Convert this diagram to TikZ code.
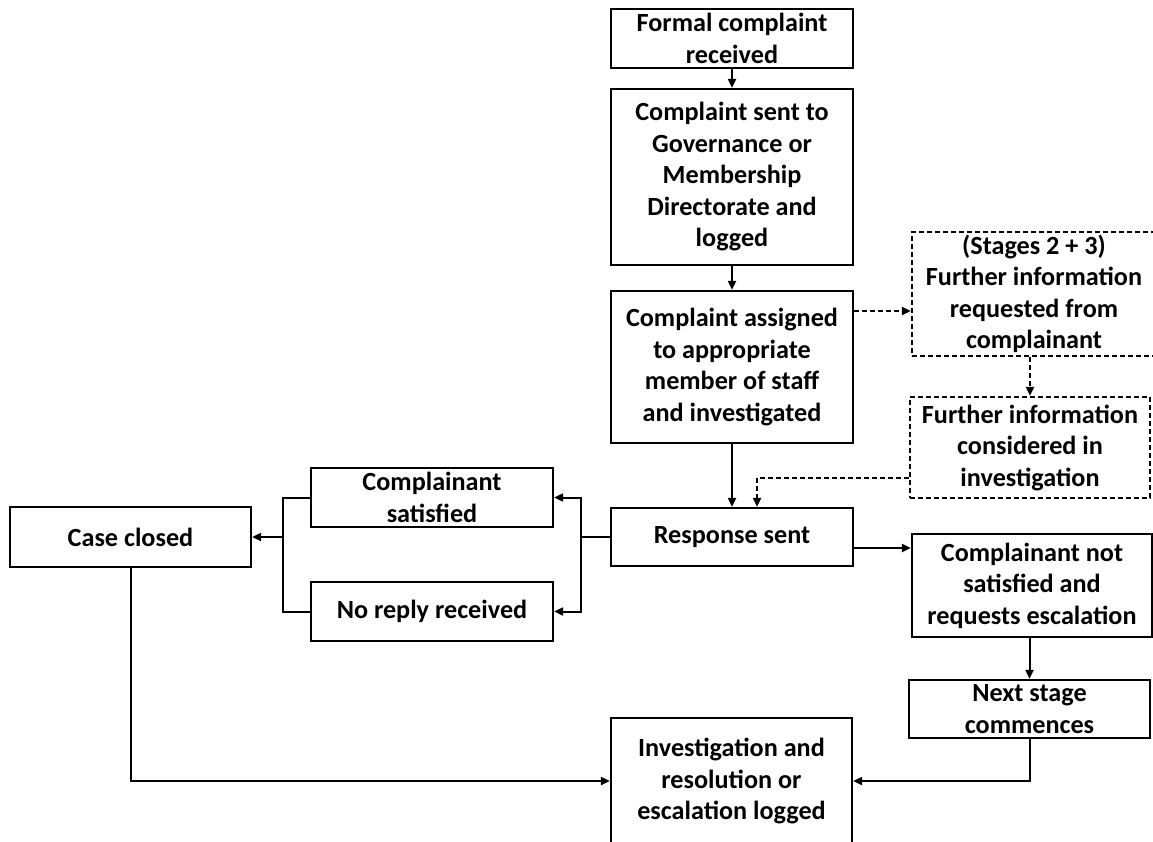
\documentclass[tikz,border=0pt]{standalone}
\usepackage{fontspec}
\setmainfont{Carlito}
\usetikzlibrary{arrows.meta}

\begin{document}
\begin{tikzpicture}[x=1pt,y=-1pt,
    arr/.style={line width=2pt,-{Triangle[length=9pt,width=8pt]}},
    dashline/.style={dash pattern=on 5pt off 3pt}]
      \useasboundingbox (0,0) rectangle (1153,841);
      \begin{scope}[every node/.style={rectangle,draw,line width=2.3pt,inner sep=0pt,
          align=center,minimum width=242pt,font=\bfseries\fontsize{26.2}{31.5}\selectfont}]
        \node[minimum height=59pt] (A) at (732,38.5) {Formal complaint\\received};
        \node[minimum height=176pt] (B) at (732,177) {Complaint sent to\\Governance or\\Membership\\Directorate and\\logged};
        \node[minimum height=152pt] (C) at (732,367) {Complaint assigned\\to appropriate\\member of staff\\and investigated};
        \node[minimum height=58pt] (D) at (732,537) {Response sent};
        \node[dashline,minimum width=244pt,minimum height=124pt] (E) at (1034,294) {(Stages 2 + 3)\\Further information\\requested from\\complainant};
        \node[dashline,minimum width=240pt,minimum height=101pt] (F) at (1030,447.5) {Further information\\considered in\\investigation};
        \node[minimum width=240pt,minimum height=103pt] (G) at (1032,585.5) {Complainant not\\satisfied and\\requests escalation};
        \node[minimum width=241pt,minimum height=58pt] (H) at (1029.5,709) {Next stage\\commences};
        \node[minimum width=241pt,minimum height=126pt] (I) at (731.5,781) {Investigation and\\resolution or\\escalation logged};
        \node[minimum height=59pt] (J) at (432,497.5) {Complainant\\satisfied};
        \node[minimum height=59pt] (K) at (432,611.5) {No reply received};
        \node[minimum width=241pt,minimum height=60pt] (L) at (130.5,537) {Case closed};
      \end{scope}
      \begin{scope}
        % main column
        \draw[arr] (A) -- (B);
        \draw[arr] (B) -- (C);
        \draw[arr] (C) -- (D);
        % further information loop
        \draw[arr,dashline] ([yshift=56pt]C.east) coordinate (cq) -- (cq -| E.west);
        \draw[arr,dashline] (E.south -| F.north) -- (F.north);
        \draw[arr,dashline] ([yshift=-30.5pt]F.west) -| ([xshift=25pt]D.north);
        % replies
        \coordinate (dsplit) at ([xshift=-29pt]D.west);
        \draw[arr] (D.west) -- (dsplit) |- (J.east);
        \draw[arr] (dsplit) |- (K.east);
        \coordinate (lmerge) at ([xshift=31pt]L.east);
        \draw[line width=2pt] (J.west) -| (lmerge);
        \draw[line width=2pt] (K.west) -| (lmerge);
        \draw[arr] (lmerge) -- (L.east);
        % escalation
        \draw[arr] ([yshift=-11pt]D.east) coordinate (dr) -- (dr -| G.west);
        \draw[arr] (G.south -| H.north) -- (H.north);
        \draw[arr] (H.south) |- (I.east);
        \draw[arr] (L.south) |- (I.west);
      \end{scope}
\end{tikzpicture}
\end{document}
